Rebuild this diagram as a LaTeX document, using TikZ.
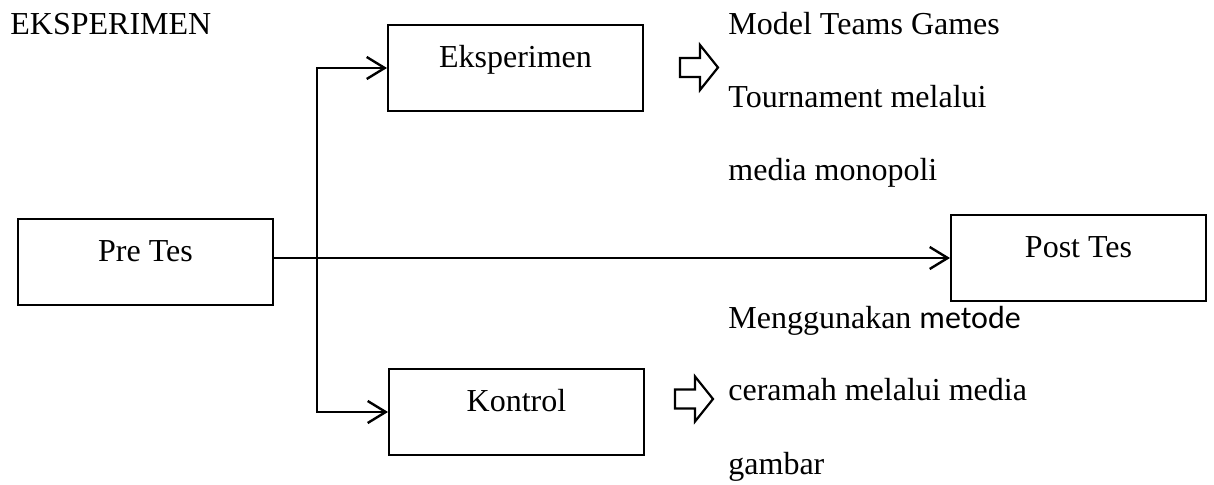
\documentclass[tikz,border=0pt]{standalone}
\usepackage{fontspec}
\setmainfont{Liberation Serif}
\newfontfamily\calibri{Carlito}
\usetikzlibrary{arrows.meta, positioning}

\begin{document}
\begin{tikzpicture}[x=0.5pt, y=-0.5pt,
                box/.style={rectangle, draw, line width=1pt, minimum width=127.5pt, inner sep=0pt, text height=21.5pt, text depth=21.5pt, font=\fontsize{16}{19}\selectfont},
                note/.style={anchor=base west, align=left, inner sep=0pt, font=\fontsize{16}{36.5}\selectfont},
                arrow/.style={-{Straight Barb[length=9pt, width=11pt]}, line width=1.2pt},
                hollow/.pic={\draw[line width=1.1pt, line join=miter] (0,-9.5) -- (20,-9.5) -- (20,-22.5) -- (38,0) -- (20,22.5) -- (20,9.5) -- (0,9.5) -- cycle;}]
                \useasboundingbox (0,0) rectangle (1214,485);
                \node[anchor=base west, inner sep=0pt, font=\fontsize{16}{19}\selectfont] (title) at (10,35) {EKSPERIMEN};
                \node[box] (pre) at (145.5,262) {Pre Tes};
                \node[box] (eks) at (515.5,68) {Eksperimen};
                \node[box] (kon) at (516.5,412) {Kontrol};
                \node[box] (post) at (1078.5,258) {Post Tes};
                \coordinate (split) at (317,259);
                
                \pic at (680,67.5) {hollow};
                \pic at (675,399) {hollow};
                % base of the last line
                \node[note] (eksnote) at (728,181) {Model Teams Games\\Tournament melalui\\media monopoli};
                \node[note] (konnote) at (728,474) {Menggunakan {\calibri metode}\\ceramah melalui media\\gambar};
                
                \draw[arrow] (pre.east |- post.west) -- (post.west);
                \draw[arrow] (split) |- (eks.west);
                \draw[arrow] (split) |- (kon.west);
            \end{tikzpicture}
\end{document}
